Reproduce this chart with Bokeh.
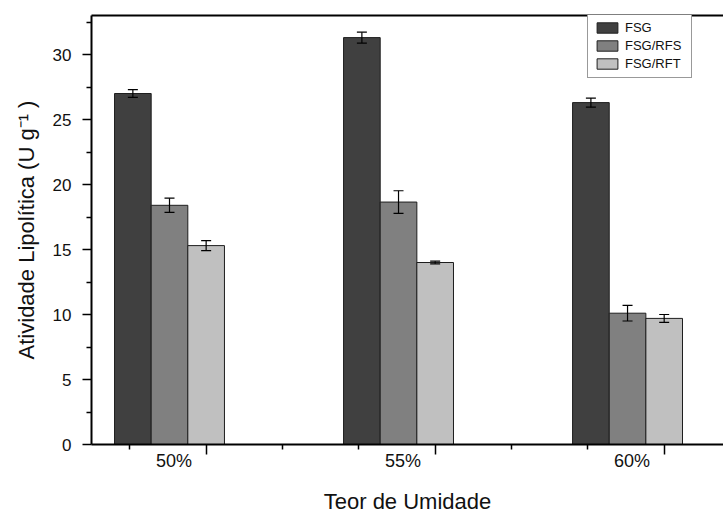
from bokeh.plotting import figure
from bokeh.models import (ColumnDataSource, Range1d, LinearAxis, FixedTicker,
                          Whisker, TeeHead, Legend, LegendItem)
from bokeh.embed import file_html
from bokeh.resources import INLINE

# ---- data ----
categories = ["50%", "55%", "60%"]
series = ["FSG", "FSG/RFS", "FSG/RFT"]
fsg = [27.0, 31.3, 26.3]
fsg_err = [0.3, 0.42, 0.35]
rfs = [18.4, 18.65, 10.1]
rfs_err = [0.55, 0.87, 0.6]
rft = [15.3, 14.0, 9.7]
rft_err = [0.38, 0.1, 0.3]
y_major = [0, 5, 10, 15, 20, 25, 30]
y_minor = [2.5, 7.5, 12.5, 17.5, 22.5, 27.5, 32.5]

values = [fsg, rfs, rft]
errors = [fsg_err, rfs_err, rft_err]
colors = ["#404040", "#808080", "#c0c0c0"]

FONT = "Liberation Sans"
TXT = "#111111"
BW = 0.16  # bar width in group units

p = figure(width=723, height=516, output_backend="svg", toolbar_location=None,
           x_range=Range1d(-0.3406, 2.419), y_range=Range1d(0, 33.0),
           x_axis_type=None, y_axis_type=None,
           min_border_left=91, min_border_right=0, min_border_top=15,
           min_border_bottom=72)
p.grid.visible = False
p.outline_line_color = None
p.background_fill_color = "white"
p.border_fill_color = "white"

# y axis
yaxis = LinearAxis(ticker=FixedTicker(ticks=y_major, minor_ticks=y_minor),
                   axis_label="Atividade Lipolítica (U g\u207b\u00b9 )")
yaxis.axis_line_width = 2
yaxis.axis_line_color = "black"
yaxis.major_tick_out = 9
yaxis.major_tick_in = 0
yaxis.minor_tick_out = 5
yaxis.minor_tick_in = 0
yaxis.major_tick_line_width = 1.5
yaxis.minor_tick_line_width = 1.5
yaxis.major_label_text_font = FONT
yaxis.major_label_text_font_size = "17px"
yaxis.major_label_text_color = TXT
yaxis.major_label_standoff = 11
yaxis.axis_label_text_font = FONT
yaxis.axis_label_text_font_size = "22px"
yaxis.axis_label_text_font_style = "normal"
yaxis.axis_label_text_color = TXT
yaxis.axis_label_standoff = 11
p.add_layout(yaxis, "left")

# x positions
group_x = list(range(len(categories)))
major_x = [g + BW for g in group_x]
minor_x = [g + BW - 1 / 3 for g in group_x] + [g + BW + 1 / 3 for g in group_x[:-1]]
label_x = [g + 0.02 for g in group_x]

# x axis: ticks only
xaxis = LinearAxis(ticker=FixedTicker(ticks=major_x, minor_ticks=minor_x),
                   major_label_overrides={t: "" for t in major_x})
xaxis.axis_line_width = 2
xaxis.axis_line_color = "black"
xaxis.major_tick_out = 10
xaxis.major_tick_in = 0
xaxis.minor_tick_out = 5
xaxis.minor_tick_in = 0
xaxis.major_tick_line_width = 1.5
xaxis.minor_tick_line_width = 1.5
xaxis.major_label_standoff = 0
xaxis.major_label_text_font_size = "1px"
p.add_layout(xaxis, "below")

# x axis: category labels
xlab = LinearAxis(ticker=FixedTicker(ticks=label_x, minor_ticks=[]),
                  major_label_overrides={t: c for t, c in zip(label_x, categories)},
                  axis_label="Teor de Umidade")
xlab.axis_line_color = None
xlab.major_tick_line_color = None
xlab.minor_tick_line_color = None
xlab.major_tick_out = 0
xlab.major_tick_in = 0
xlab.major_label_standoff = -4
xlab.major_label_text_font = FONT
xlab.major_label_text_font_size = "18px"
xlab.major_label_text_color = TXT
xlab.axis_label_text_font = FONT
xlab.axis_label_text_font_size = "22px"
xlab.axis_label_text_font_style = "normal"
xlab.axis_label_text_color = TXT
xlab.axis_label_standoff = 15
p.add_layout(xlab, "below")

# top border
top = LinearAxis(ticker=FixedTicker(ticks=[], minor_ticks=[]))
top.axis_line_width = 2
top.axis_line_color = "black"
top.major_tick_out = 0
top.minor_tick_out = 0
top.major_label_standoff = 0
p.add_layout(top, "above")

items = []
for i, (name, vals, errs, col) in enumerate(zip(series, values, errors, colors)):
    xs = [g + (i - 1) * BW for g in group_x]
    src = ColumnDataSource(dict(x=xs, top=vals,
                                upper=[v + e for v, e in zip(vals, errs)],
                                lower=[v - e for v, e in zip(vals, errs)]))
    r = p.vbar(x="x", top="top", width=BW, source=src, fill_color=col,
               line_color="#1e1e1e", line_width=1)
    w = Whisker(base="x", upper="upper", lower="lower", source=src,
                line_color="black", line_width=1.2, level="overlay",
                upper_head=TeeHead(size=10, line_color="black", line_width=1.2),
                lower_head=TeeHead(size=10, line_color="black", line_width=1.2))
    p.add_layout(w)
    items.append(LegendItem(label=name, renderers=[r]))

legend = Legend(items=items, location=(496, 366))
legend.glyph_width = 26
legend.glyph_height = 13
legend.label_height = 13
legend.label_width = 60
legend.label_text_font = FONT
legend.label_text_font_size = "13px"
legend.label_text_color = TXT
legend.label_standoff = 5
legend.spacing = 3
legend.padding = 6
legend.margin = 0
legend.border_line_color = "#333333"
legend.border_line_width = 1
legend.background_fill_alpha = 1
p.add_layout(legend)

open("out.html", "w").write(file_html(p, INLINE))
